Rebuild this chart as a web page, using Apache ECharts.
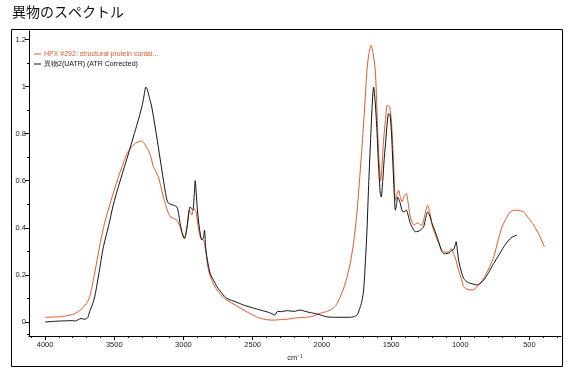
<!DOCTYPE html>
<html><head><meta charset="utf-8">
<script src="https://cdn.jsdelivr.net/npm/echarts@6/dist/echarts.min.js"></script>
<style>html,body{margin:0;padding:0;background:#fff}#c{width:568px;height:371px}</style>
</head><body><div id="c"></div>
<script>
const title = '異物のスペクトル';
const axisName = 'cm⁻¹';
const nameHPX = 'HPX #292: structural protein contai...';
const nameSample = '異物2(UATR) (ATR Corrected)';

const xTickLabels = [500, 1000, 1500, 2000, 2500, 3000, 3500, 4000];
const yTickLabels = [0, 0.2, 0.4, 0.6, 0.8, 1, 1.2];

const hpxX = [4000,3950,3900,3850,3800,3770,3747,3720,3700,3687,3670,3651,3625,3602,3570,3530,3500,3470,3440,3409,3380,3349,3320,3301,3285,3270,3253,3235,3217,3200,3181,3163,3145,3125,3108,3090,3072,3048,3035,3024,3010,2993,2975,2957,2948,2939,2930,2923,2915,2908,2895,2879,2865,2855,2847,2838,2819,2790,2758,2720,2686,2620,2566,2500,2445,2400,2349,2300,2250,2205,2150,2084,2040,2012,1975,1939,1900,1867,1830,1795,1770,1747,1728,1710,1692,1674,1660,1645,1630,1614,1605,1597,1588,1578,1575,1565,1554,1540,1529,1520,1510,1500,1493,1480,1469,1458,1445,1433,1421,1405,1390,1375,1361,1345,1332,1316,1301,1288,1276,1258,1236,1218,1200,1180,1156,1138,1120,1100,1084,1064,1048,1030,1012,990,975,945,915,895,879,855,831,795,758,725,698,668,638,610,590,565,542,505,469,430,392];
const hpxY = [0.02,0.021,0.022,0.026,0.032,0.04,0.05,0.065,0.08,0.093,0.125,0.178,0.26,0.334,0.42,0.503,0.56,0.616,0.665,0.715,0.74,0.758,0.767,0.769,0.76,0.745,0.73,0.70,0.659,0.64,0.616,0.575,0.531,0.49,0.461,0.445,0.44,0.433,0.42,0.404,0.375,0.355,0.40,0.475,0.465,0.454,0.475,0.482,0.475,0.468,0.41,0.362,0.35,0.348,0.33,0.298,0.22,0.17,0.136,0.11,0.093,0.07,0.051,0.03,0.016,0.01,0.008,0.01,0.012,0.016,0.019,0.022,0.03,0.037,0.043,0.051,0.07,0.107,0.165,0.249,0.34,0.461,0.60,0.743,0.90,1.069,1.14,1.175,1.14,1.069,0.95,0.814,0.70,0.609,0.60,0.67,0.772,0.86,0.92,0.92,0.913,0.87,0.814,0.65,0.517,0.54,0.56,0.53,0.51,0.535,0.546,0.50,0.447,0.42,0.411,0.42,0.419,0.412,0.411,0.45,0.496,0.46,0.404,0.37,0.334,0.31,0.298,0.297,0.298,0.312,0.291,0.26,0.22,0.18,0.15,0.138,0.136,0.14,0.15,0.165,0.185,0.225,0.277,0.35,0.404,0.44,0.468,0.474,0.475,0.472,0.468,0.44,0.411,0.37,0.319];

const sampleX = [4000,3950,3900,3850,3800,3780,3760,3740,3720,3700,3690,3675,3660,3640,3610,3578,3540,3506,3470,3434,3400,3362,3330,3301,3285,3272,3260,3245,3229,3193,3156,3130,3115,3095,3072,3048,3035,3024,3010,2993,2975,2960,2952,2940,2932,2922,2915,2908,2899,2885,2867,2855,2848,2840,2831,2807,2780,2758,2720,2686,2620,2566,2500,2445,2380,2340,2320,2300,2250,2200,2156,2120,2084,2040,2012,1963,1900,1850,1800,1771,1745,1722,1710,1698,1686,1674,1662,1650,1638,1626,1614,1602,1590,1578,1571,1560,1550,1542,1530,1518,1508,1498,1485,1475,1469,1460,1453,1443,1433,1424,1414,1400,1390,1375,1361,1340,1325,1305,1289,1265,1250,1236,1220,1204,1185,1168,1150,1132,1115,1096,1075,1059,1045,1030,1020,1012,995,975,950,927,900,879,855,831,795,758,720,686,660,638,610,590];
const sampleY = [0.0,0.002,0.004,0.005,0.006,0.004,0.01,0.015,0.012,0.014,0.02,0.05,0.07,0.11,0.21,0.32,0.41,0.50,0.575,0.645,0.71,0.786,0.85,0.913,0.96,0.998,0.985,0.95,0.913,0.786,0.645,0.55,0.51,0.50,0.496,0.489,0.46,0.419,0.38,0.355,0.40,0.47,0.489,0.48,0.475,0.54,0.60,0.55,0.475,0.40,0.348,0.36,0.39,0.32,0.277,0.206,0.175,0.15,0.12,0.10,0.085,0.072,0.06,0.051,0.04,0.03,0.045,0.044,0.048,0.045,0.051,0.045,0.04,0.035,0.03,0.022,0.02,0.02,0.02,0.022,0.03,0.065,0.09,0.136,0.25,0.39,0.58,0.743,0.90,0.998,0.93,0.814,0.66,0.546,0.531,0.60,0.69,0.743,0.83,0.885,0.88,0.814,0.65,0.52,0.475,0.50,0.531,0.52,0.503,0.48,0.468,0.47,0.475,0.45,0.419,0.395,0.383,0.385,0.39,0.404,0.44,0.468,0.45,0.419,0.39,0.362,0.33,0.298,0.29,0.291,0.295,0.305,0.31,0.341,0.30,0.263,0.22,0.185,0.17,0.164,0.16,0.157,0.165,0.178,0.21,0.249,0.285,0.319,0.34,0.355,0.365,0.369];

const xMinorTicks = [];
for (let v = 300; v <= 4100; v += 100) xMinorTicks.push(v);
const yMinorTicks = [-0.05, 0.1, 0.3, 0.5, 0.7, 0.9, 1.1];

const pair = (xs, ys) => xs.map((x, i) => [x, ys[i]]);
const ORANGE = '#e2582b';
const BLACK = '#111111';
const FONT = '"Liberation Sans", Arial, sans-serif';

const X_MIN = 272, X_MAX = 4116, Y_MIN = -0.0595, Y_MAX = 1.236;
const grid = { left: 29, right: 7, top: 31, bottom: 35, containLabel: false };

const chart = echarts.init(document.getElementById('c'), null, { renderer: 'canvas' });
chart.setOption({
  animation: false,
  backgroundColor: '#fff',
  title: { text: title, left: 12, top: 5, padding: 0,
    textStyle: { fontFamily: '"Noto Sans CJK JP", sans-serif', fontSize: 14, fontWeight: 'normal', color: '#111' } },
  graphic: [{ type: 'rect', shape: { x: 11.5, y: 29.5, width: 551, height: 337 },
    style: { fill: null, stroke: '#000', lineWidth: 1 }, silent: true, z: 0 }],
  legend: {
    orient: 'vertical', left: 34, top: 50, padding: 0, itemGap: 2,
    itemWidth: 7, itemHeight: 1, icon: 'rect',
    textStyle: { fontFamily: FONT, fontSize: 7, lineHeight: 8, padding: [0, 0, 0, -2] },
    data: [
      { name: nameHPX, textStyle: { color: ORANGE } },
      { name: nameSample, textStyle: { color: BLACK } }
    ]
  },
  grid: grid,
  xAxis: [{
    type: 'value', inverse: true, min: X_MIN, max: X_MAX,
    position: 'bottom',
    name: axisName, nameLocation: 'middle', nameGap: 17,
    nameTextStyle: { fontFamily: FONT, fontSize: 7.5, color: '#222' },
    axisLine: { show: true, onZero: false, lineStyle: { color: '#000', width: 1 } },
    axisTick: { show: true, customValues: xTickLabels, length: 4, inside: false, lineStyle: { color: '#000' } },
    axisLabel: { show: true, customValues: xTickLabels, margin: 5, fontFamily: FONT, fontSize: 7.5, color: '#222',
      formatter: v => String(v) },
    splitLine: { show: false }
  }, {
    type: 'value', inverse: true, min: X_MIN, max: X_MAX, position: 'bottom',
    axisLine: { show: false, onZero: false },
    axisTick: { show: true, customValues: xMinorTicks, length: 2, lineStyle: { color: '#000' } },
    axisLabel: { show: false },
    splitLine: { show: false }
  }],
  yAxis: [{
    type: 'value', min: Y_MIN, max: Y_MAX, position: 'left',
    axisLine: { show: true, onZero: false, lineStyle: { color: '#000', width: 1 } },
    axisTick: { show: true, customValues: yTickLabels, length: 4, lineStyle: { color: '#000' } },
    axisLabel: { show: true, customValues: yTickLabels, margin: 3, fontFamily: FONT, fontSize: 7.5, color: '#222',
      formatter: v => String(v) },
    splitLine: { show: false }
  }, {
    type: 'value', min: Y_MIN, max: Y_MAX, position: 'left',
    axisLine: { show: false, onZero: false },
    axisTick: { show: true, customValues: yMinorTicks, length: 2, lineStyle: { color: '#000' } },
    axisLabel: { show: false },
    splitLine: { show: false }
  }],
  series: [
    { name: nameHPX, type: 'line', xAxisIndex: 0, yAxisIndex: 0, data: pair(hpxX, hpxY),
      symbol: 'none', smooth: 0.25, clip: true, color: ORANGE,
      lineStyle: { color: ORANGE, width: 1 } },
    { name: nameSample, type: 'line', xAxisIndex: 0, yAxisIndex: 0, data: pair(sampleX, sampleY),
      symbol: 'none', smooth: 0.25, clip: true, color: BLACK,
      lineStyle: { color: BLACK, width: 1 } }
  ]
});
</script>
</body></html>
